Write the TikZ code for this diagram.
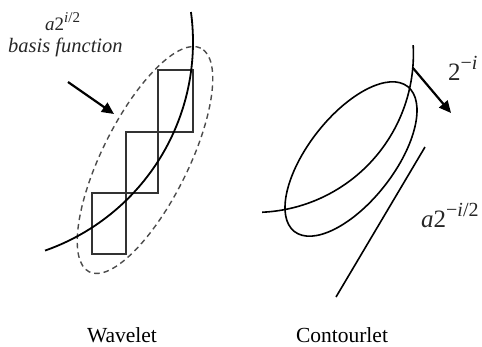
\RequirePackage{fix-cm}
\documentclass[tikz,border=0pt]{standalone}
\usepackage{fontspec}
\setmainfont{Liberation Serif}
\usetikzlibrary{arrows.meta}
\tikzset{
  curveline/.style={line width=1.8pt, black},
  boxline/.style={line width=1.3pt, black!80},
  dashline/.style={line width=1.4pt, black!70, dash pattern=on 5.5pt off 4pt},
  thickarrow/.style={line width=2.2pt, -{Triangle[length=12pt,width=11pt]}},
  caption/.style={font=\fontsize{21.5}{24}\selectfont, anchor=base, inner sep=0pt},
  lbl/.style={text=black!85, inner sep=0pt},
}
\newcommand{\supx}[2]{\raisebox{0.42em}{\fontsize{#1}{#1}\selectfont #2}}
\begin{document}
\begin{tikzpicture}[x=1pt,y=-1pt]
\useasboundingbox (0,0) rectangle (482,346);
% ---------- Wavelet panel ----------
\draw[boxline] (158,70) rectangle (193,132);
\draw[boxline] (126,132) rectangle (158,193);
\draw[boxline] (92,193) rectangle (126,254);
\draw[dashline, rotate around={63.5:(145,160)}] (145,160) ellipse [x radius=125pt, y radius=43pt];
\draw[curveline] plot[domain=-7.8:70.7, samples=80, smooth] ({-28+221*cos(\x)},{42+221*sin(\x)});
\coordinate (la0) at (68,82);
\coordinate (la1) at (114,114);
\draw[thickarrow] (la0) -- (la1);
\node[lbl, anchor=base west, font=\fontsize{19}{21}\selectfont] (lt1) at (45,30) {\textit{a}2\supx{15}{\textit{i}/2}};
\node[lbl, anchor=base west, font=\fontsize{20.5}{22}\selectfont] (lt2) at (8,52) {\textit{basis function}};
\node[caption] (wav) at (122,342) {Wavelet};
% ---------- Contourlet panel ----------
\draw[curveline, line width=1.6pt, rotate around={52:(351,159)}] (351,159) ellipse [x radius=92pt, y radius=43pt];
\draw[curveline, line width=1.6pt] plot[domain=-3.2:87.4, samples=80, smooth] ({255+158.4*cos(\x)},{54+158.4*sin(\x)});
\coordinate (ra0) at (412.8,67.8);
\coordinate (ra1) at (451,113);
\draw[thickarrow] (ra0) -- (ra1);
\coordinate (rl0) at (425,147);
\coordinate (rl1) at (336,297);
\draw[curveline, line width=1.6pt] (rl0) -- (rl1);
\node[lbl, anchor=base west, font=\fontsize{25}{28}\selectfont] (rt1) at (448,80) {2\supx{20}{−\textit{i}}};
\node[lbl, anchor=base west, font=\fontsize{25}{28}\selectfont] (rt2) at (421,227) {\textit{a}2\supx{20}{−\textit{i}/2}};
\node[caption] (con) at (342,342) {Contourlet};
\end{tikzpicture}
\end{document}
